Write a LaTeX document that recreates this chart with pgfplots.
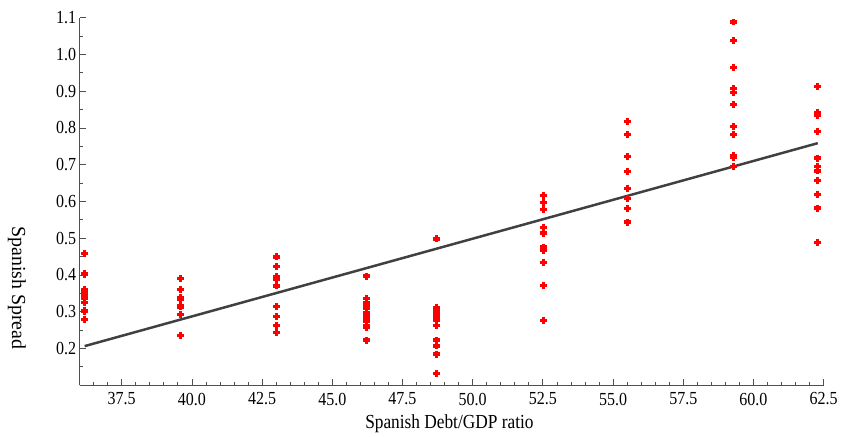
\documentclass[border=0pt]{standalone}
\usepackage{fontspec}
\setmainfont{Liberation Serif}
\newfontfamily\cond[FakeStretch=0.87]{Liberation Serif}
\usepackage{pgfplots}
\usepackage{pgfplotstable}
\pgfplotsset{compat=1.18}
\definecolor{fitgray}{HTML}{404040}
\definecolor{axgray}{HTML}{505050}

\pgfplotstableread{
x y
36.18 0.458
36.18 0.405
36.18 0.401
36.18 0.360
36.18 0.351
36.18 0.345
36.18 0.336
36.18 0.325
36.18 0.304
36.18 0.300
36.18 0.280
39.60 0.390
39.60 0.361
39.60 0.338
39.60 0.333
39.60 0.318
39.60 0.313
39.60 0.292
39.60 0.236
43.01 0.449
43.01 0.423
43.01 0.395
43.01 0.388
43.01 0.370
43.01 0.315
43.01 0.288
43.01 0.263
43.01 0.243
46.22 0.397
46.22 0.336
46.22 0.325
46.22 0.320
46.22 0.313
46.22 0.309
46.22 0.298
46.22 0.289
46.22 0.282
46.22 0.273
46.22 0.262
46.22 0.258
46.22 0.223
48.71 0.498
48.71 0.311
48.71 0.304
48.71 0.298
48.71 0.290
48.71 0.283
48.71 0.277
48.71 0.263
48.71 0.223
48.71 0.207
48.71 0.185
48.71 0.132
52.51 0.616
52.51 0.598
52.51 0.578
52.51 0.530
52.51 0.514
52.51 0.476
52.51 0.467
52.51 0.435
52.51 0.372
52.51 0.277
55.50 0.817
55.50 0.781
55.50 0.722
55.50 0.681
55.50 0.636
55.50 0.607
55.50 0.580
55.50 0.544
59.29 1.088
59.29 1.038
59.29 0.965
59.29 0.907
59.29 0.896
59.29 0.864
59.29 0.803
59.29 0.781
59.29 0.726
59.29 0.720
59.29 0.694
62.29 0.912
62.29 0.842
62.29 0.834
62.29 0.790
62.29 0.718
62.29 0.695
62.29 0.683
62.29 0.658
62.29 0.618
62.29 0.582
62.29 0.488
}\spread

\begin{document}
\begin{tikzpicture}
\begin{axis}[
  width=748pt, height=369.6pt, scale only axis,
  xmin=36, xmax=62.5, ymin=0.1, ymax=1.1,
  axis x line*=bottom, axis y line*=left,
  axis line style={axgray, line width=0.9pt, -},
  xtick={37.5,40,42.5,45,47.5,50,52.5,55,57.5,60,62.5},
  minor xtick={36,36.5,37,38,38.5,39,39.5,40.5,41,41.5,42,43,43.5,44,44.5,45.5,46,46.5,47,48,48.5,49,49.5,50.5,51,51.5,52,53,53.5,54,54.5,55.5,56,56.5,57,58,58.5,59,59.5,60.5,61,61.5,62},
  ytick={0.2,0.3,0.4,0.5,0.6,0.7,0.8,0.9,1.0,1.1},
  minor ytick={0.1,0.15,0.25,0.35,0.45,0.55,0.65,0.75,0.85,0.95,1.05},
  tick align=inside,
  major tick length=6pt, minor tick length=3.5pt,
  tick style={axgray, line width=0.8pt},
  /pgf/number format/assume math mode=true,
  /pgf/number format/.cd, fixed, fixed zerofill, precision=1, /pgfplots/.cd,
  ticklabel style={font=\cond\fontsize{18.5}{18.5}\selectfont, text=black},
  xticklabel style={yshift=-4pt},
  xlabel={Spanish Debt/GDP ratio},
  ylabel={Spanish Spread},
  every axis x label/.style={at={(axis description cs:0.497,0)}, anchor=center, yshift=-39pt, font=\cond\fontsize{20}{20}\selectfont},
  every axis y label/.style={at={(axis description cs:0,0.2646)}, anchor=center, xshift=-63pt, rotate=-90, font=\fontsize{20}{20}\selectfont},
  clip=false,
]
\addplot[fitgray, line width=2.5pt] coordinates {(36.18,0.2065) (62.29,0.7585)};
\addplot[only marks, mark=+, color=red, mark size=3.5pt, line width=3.2pt] table[x=x,y=y] {\spread};
\end{axis}
\path ([xshift=-80pt,yshift=-51.7pt]current axis.south west) rectangle ([xshift=13pt,yshift=17.7pt]current axis.north east);
\end{tikzpicture}
\end{document}
